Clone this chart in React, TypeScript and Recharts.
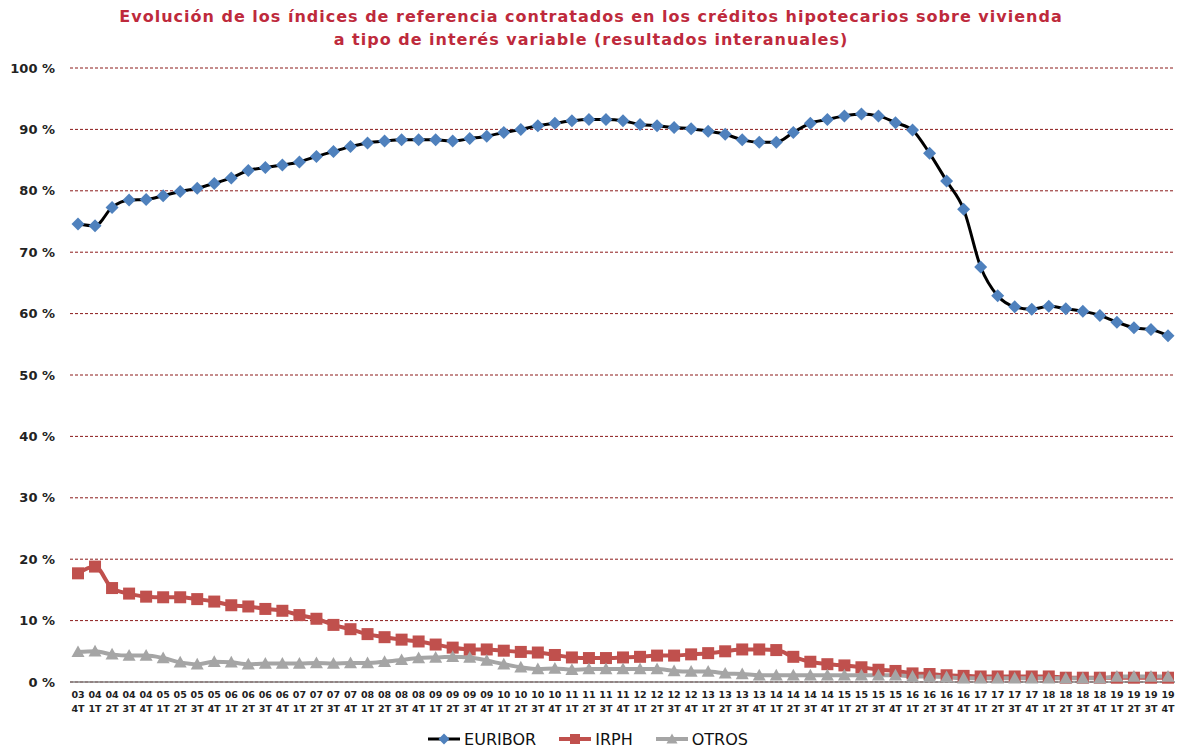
import { LineChart, Line, XAxis, YAxis, CartesianGrid, Legend } from "recharts"

const quarters = [
  "03 4T",
  "04 1T", "04 2T", "04 3T", "04 4T",
  "05 1T", "05 2T", "05 3T", "05 4T",
  "06 1T", "06 2T", "06 3T", "06 4T",
  "07 1T", "07 2T", "07 3T", "07 4T",
  "08 1T", "08 2T", "08 3T", "08 4T",
  "09 1T", "09 2T", "09 3T", "09 4T",
  "10 1T", "10 2T", "10 3T", "10 4T",
  "11 1T", "11 2T", "11 3T", "11 4T",
  "12 1T", "12 2T", "12 3T", "12 4T",
  "13 1T", "13 2T", "13 3T", "13 4T",
  "14 1T", "14 2T", "14 3T", "14 4T",
  "15 1T", "15 2T", "15 3T", "15 4T",
  "16 1T", "16 2T", "16 3T", "16 4T",
  "17 1T", "17 2T", "17 3T", "17 4T",
  "18 1T", "18 2T", "18 3T", "18 4T",
  "19 1T", "19 2T", "19 3T", "19 4T",
]

const euribor = [
  74.6,
  74.3, 77.3, 78.5, 78.6,
  79.2, 79.9, 80.4, 81.2,
  82.1, 83.3, 83.8, 84.2,
  84.7, 85.6, 86.4, 87.2,
  87.8, 88.1, 88.3, 88.3,
  88.3, 88.1, 88.5, 88.9,
  89.5, 90.0, 90.6, 91.0,
  91.4, 91.6, 91.6, 91.4,
  90.8, 90.6, 90.3, 90.1,
  89.7, 89.2, 88.3, 87.9,
  87.9, 89.5, 91.0, 91.6,
  92.2, 92.5, 92.2, 91.1,
  89.9, 86.1, 81.6, 77.0,
  67.6, 62.9, 61.1, 60.7,
  61.2, 60.8, 60.4, 59.7,
  58.6, 57.7, 57.4, 56.4,
]

const irph = [
  17.7,
  18.8, 15.3, 14.4, 13.9,
  13.8, 13.8, 13.5, 13.1,
  12.5, 12.3, 11.9, 11.6,
  10.9, 10.3, 9.3, 8.6,
  7.8, 7.3, 6.9, 6.6,
  6.1, 5.6, 5.3, 5.3,
  5.1, 4.9, 4.8, 4.4,
  4.0, 3.9, 3.9, 4.0,
  4.1, 4.3, 4.3, 4.5,
  4.7, 5.0, 5.3, 5.3,
  5.2, 4.1, 3.3, 2.9,
  2.7, 2.4, 2.0, 1.8,
  1.4, 1.3, 1.1, 1.0,
  0.9, 0.9, 0.9, 0.9,
  0.9, 0.7, 0.7, 0.7,
  0.7, 0.7, 0.7, 0.7,
]

const otros = [
  4.9,
  5.0, 4.5, 4.3, 4.3,
  3.9, 3.2, 2.9, 3.3,
  3.2, 2.9, 3.0, 3.0,
  3.0, 3.1, 3.0, 3.1,
  3.1, 3.3, 3.6, 3.9,
  4.0, 4.1, 4.0, 3.5,
  2.9, 2.4, 2.1, 2.2,
  2.0, 2.1, 2.1, 2.1,
  2.1, 2.1, 1.8, 1.7,
  1.7, 1.4, 1.3, 1.1,
  1.1, 1.1, 1.1, 1.1,
  1.1, 1.1, 1.1, 1.1,
  0.9, 0.9, 0.8, 0.6,
  0.6, 0.6, 0.6, 0.6,
  0.6, 0.6, 0.6, 0.6,
  0.9, 0.9, 0.9, 0.9,
]

const yTicks = [0, 10, 20, 30, 40, 50, 60, 70, 80, 90, 100]

const data = quarters.map((q, i) => ({
  q,
  euribor: euribor[i],
  irph: irph[i],
  otros: otros[i],
}))

const FONT = "'DejaVu Sans', Verdana, sans-serif"
const BLUE = "#4f81bd"
const RED = "#c0504d"
const GRAY = "#a5a5a5"

function diamond(cx: number, cy: number, r: number) {
  return `M${cx},${cy - r}L${cx + r},${cy}L${cx},${cy + r}L${cx - r},${cy}Z`
}

function triangle(cx: number, cy: number, r: number) {
  return `M${cx},${cy - r}L${cx + r},${cy + r * 0.8}L${cx - r},${cy + r * 0.8}Z`
}

const DiamondDot = (props: any) => {
  const { cx, cy, index } = props
  return <path key={`e-${index}`} d={diamond(cx, cy, 6.5)} fill={BLUE} />
}

const SquareDot = (props: any) => {
  const { cx, cy, index } = props
  return <rect key={`i-${index}`} x={cx - 6} y={cy - 6} width={12} height={12} fill={RED} />
}

const TriangleDot = (props: any) => {
  const { cx, cy, index } = props
  return <path key={`o-${index}`} d={triangle(cx, cy, 6.5)} fill={GRAY} />
}

const QuarterTick = (props: any) => {
  const { x, y, payload } = props
  const [yr, q] = String(payload.value).split(" ")
  return (
    <text x={x} y={y} textAnchor="middle" fontSize={9.5} fontWeight="bold" fill="#222" fontFamily={FONT}>
      <tspan x={x} dy={8}>{yr}</tspan>
      <tspan x={x} dy={14}>{q}</tspan>
    </text>
  )
}

const PctTick = (props: any) => {
  const { y, payload } = props
  return (
    <text x={55} y={y} dy={4.5} textAnchor="end" fontSize={13} fontWeight="bold" fill="#222" fontFamily={FONT}>
      {`${payload.value} %`}
    </text>
  )
}

const legendItems = [
  { name: "EURIBOR", line: "#000", width: 3, marker: "diamond", fill: BLUE },
  { name: "IRPH", line: RED, width: 4, marker: "square", fill: RED },
  { name: "OTROS", line: GRAY, width: 4, marker: "triangle", fill: GRAY },
]

const LegendContent = () => (
  <div style={{ display: "flex", justifyContent: "center", alignItems: "flex-end", height: 32, gap: 22, fontFamily: FONT }}>
    {legendItems.map((it) => (
      <div key={it.name} style={{ display: "flex", alignItems: "center", height: 22 }}>
        <svg width={34} height={16} style={{ marginRight: 3 }}>
          <line x1={1} y1={8} x2={33} y2={8} stroke={it.line} strokeWidth={it.width} />
          {it.marker === "diamond" && <path d={diamond(17, 8, 5.5)} fill={it.fill} />}
          {it.marker === "square" && <rect x={12} y={3} width={10} height={10} fill={it.fill} />}
          {it.marker === "triangle" && <path d={triangle(17, 8, 5.5)} fill={it.fill} />}
        </svg>
        <span style={{ fontSize: 16, color: "#111" }}>{it.name}</span>
      </div>
    ))}
  </div>
)

export default function App() {
  return (
    <div style={{ position: "relative", width: 1182, height: 752, background: "#fff" }}>
      <style>{"body{margin:0}"}</style>
      <div
        style={{
          position: "absolute",
          top: 5,
          left: 0,
          width: 1182,
          textAlign: "center",
          color: "#be2a3c",
          fontFamily: FONT,
          fontWeight: "bold",
          fontSize: 16,
          lineHeight: "23px",
          letterSpacing: 1,
          zIndex: 1,
        }}
      >
        Evolución de los índices de referencia contratados en los créditos hipotecarios sobre vivienda
        <br />
        a tipo de interés variable (resultados interanuales)
      </div>
      <LineChart width={1182} height={752} data={data} margin={{ top: 68, right: 7, bottom: 2, left: 0 }}>
        <CartesianGrid horizontal vertical={false} stroke="#8b1a1a" strokeDasharray="3 2" strokeWidth={1} />
        <XAxis
          dataKey="q"
          interval={0}
          height={36}
          tick={<QuarterTick />}
          tickLine={false}
          axisLine={{ stroke: "#808080", strokeWidth: 1.5 }}
          padding={{ left: 8, right: 7 }}
        />
        <YAxis
          domain={[0, 100]}
          ticks={yTicks}
          width={70}
          tick={<PctTick />}
          tickLine={false}
          axisLine={false}
          interval={0}
        />
        <Legend verticalAlign="bottom" content={<LegendContent />} />
        <Line
          type="monotone"
          dataKey="euribor"
          name="EURIBOR"
          stroke="#000"
          strokeWidth={3}
          dot={DiamondDot}
          activeDot={false}
          isAnimationActive={false}
        />
        <Line
          type="monotone"
          dataKey="irph"
          name="IRPH"
          stroke={RED}
          strokeWidth={4}
          dot={SquareDot}
          activeDot={false}
          isAnimationActive={false}
        />
        <Line
          type="monotone"
          dataKey="otros"
          name="OTROS"
          stroke={GRAY}
          strokeWidth={4}
          dot={TriangleDot}
          activeDot={false}
          isAnimationActive={false}
        />
      </LineChart>
    </div>
  )
}
